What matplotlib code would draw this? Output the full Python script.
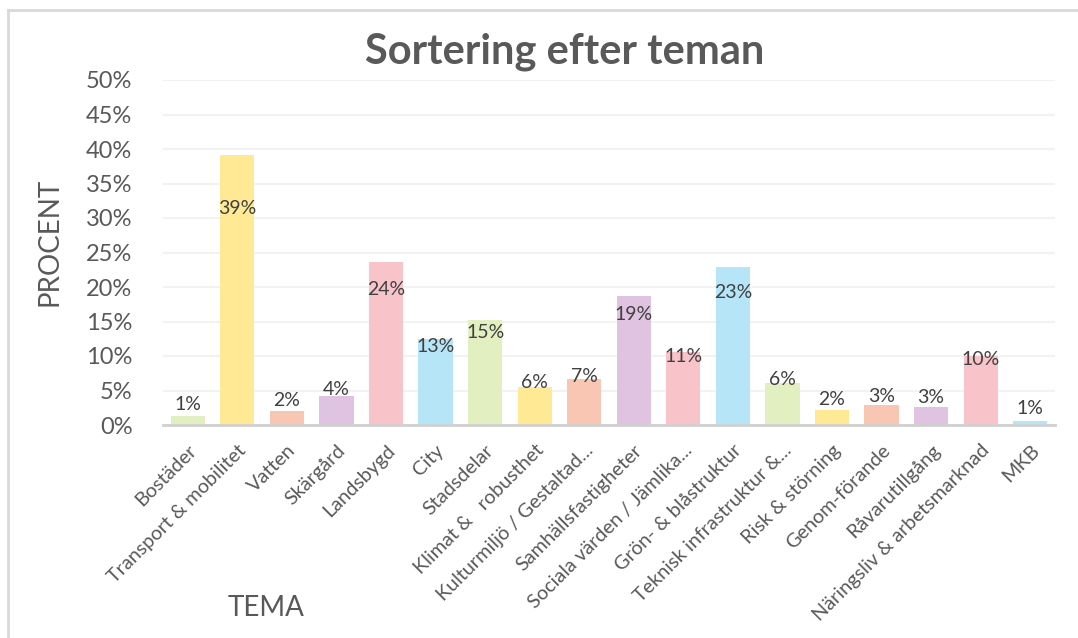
import matplotlib
matplotlib.use("Agg")
import matplotlib.pyplot as plt
from matplotlib.lines import Line2D
from matplotlib.ticker import MultipleLocator, FuncFormatter

plt.rcParams['font.family'] = ['Lato', 'DejaVu Sans']

categories = ["Bostäder", "Transport & mobilitet", "Vatten", "Skärgård", "Landsbygd",
              "City", "Stadsdelar", "Klimat &   robusthet", "Kulturmiljö / Gestaltad...",
              "Samhällsfastigheter", "Sociala värden / Jämlika...", "Grön- & blåstruktur",
              "Teknisk infrastruktur &...", "Risk & störning", "Genom-förande",
              "Råvarutillgång", "Näringsliv & arbetsmarknad", "MKB"]
values = [1.3, 39.1, 2.0, 4.2, 23.6, 12.5, 15.2, 5.5, 6.7,
          18.7, 10.6, 22.9, 6.1, 2.2, 2.9, 2.6, 10.0, 0.6]
labels = ["1%", "39%", "2%", "4%", "24%", "13%", "15%", "6%", "7%",
          "19%", "11%", "23%", "6%", "2%", "3%", "3%", "10%", "1%"]
palette = ["#E2EFC1", "#FFE995", "#F9C6B4", "#E0C3E0", "#F8C4CA", "#B6E5F8"]

TXT = "#595959"

fig = plt.figure(figsize=(10.78, 6.38), dpi=100)
ax = fig.add_axes([163/1078, 1-425/638, (1055-163)/1078, (425-80)/638])

x = list(range(len(categories)))
colors = [palette[i % len(palette)] for i in x]
ax.bar(x, values, width=0.69, color=colors, zorder=2)

for xi, v, lab in zip(x, values, labels):
    ax.text(xi, 0.75*v + 2.0, lab, ha='center', va='center', fontsize=14, color="#404040", zorder=3)

ax.set_xlim(-0.5, len(categories)-0.5)
ax.set_ylim(0, 50)
ax.yaxis.set_major_locator(MultipleLocator(5))
ax.yaxis.set_major_formatter(FuncFormatter(lambda v, p: f"{int(round(v))}%"))
ax.grid(axis='y', color="#F2F2F2", linewidth=1.5, zorder=0)
ax.set_axisbelow(True)
for s in ['top', 'right', 'left']:
    ax.spines[s].set_visible(False)
ax.spines['bottom'].set_color("#D0D0D0")
ax.spines['bottom'].set_linewidth(2)
ax.spines['bottom'].set_zorder(4)
ax.tick_params(axis='y', length=0, labelsize=17, labelcolor=TXT, pad=22)
ax.tick_params(axis='x', length=0, labelsize=14.3, labelcolor=TXT, pad=12)
ax.set_xticks(x)
ax.set_xticklabels(categories, rotation=45, ha='right', rotation_mode='anchor')

fig.text(50/1078, 1-242/638, "PROCENT", rotation=90, ha='center', va='center', fontsize=20, color=TXT)
fig.text(266/1078, 1-608/638, "TEMA", ha='center', va='center', fontsize=20, color=TXT)
fig.text(565/1078, 1-52/638, "Sortering efter teman", ha='center', va='center',
         fontsize=30, fontweight='bold', color=TXT)

# outer chart border
fig.add_artist(Line2D([8/1078, 8/1078], [0, 1-10/638], transform=fig.transFigure, color="#D9D9D9", linewidth=2))
fig.add_artist(Line2D([8/1078, 1], [1-10/638, 1-10/638], transform=fig.transFigure, color="#D9D9D9", linewidth=2))

fig.savefig("out.png", dpi=100, facecolor="white")
